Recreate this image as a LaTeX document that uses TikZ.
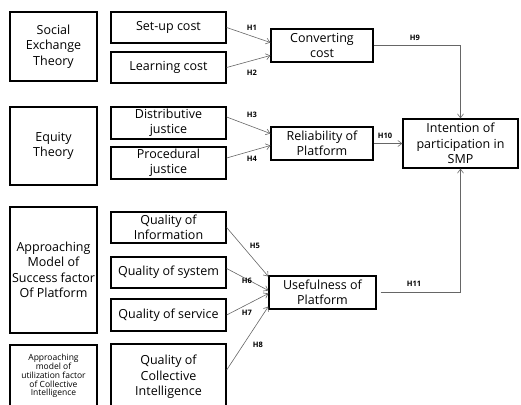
\documentclass[tikz,border=0pt]{standalone}
\usepackage{fontspec}
\setmainfont{Open Sans}
\usetikzlibrary{arrows.meta}
\tikzset{box/.style={rectangle, draw, line width=1.3pt, align=center, inner sep=0pt,
   font=\fontsize{12.5}{15.5}\selectfont}}
\tikzset{theory/.style={box, minimum width=87pt}}
\tikzset{factor/.style={box, minimum width=115pt, minimum height=31pt}}
\tikzset{construct/.style={box, minimum width=102pt, minimum height=33pt}}
\tikzset{hyp/.style={draw=black!60, line width=0.6pt,
   -{Straight Barb[length=4pt,width=6pt]}}}
\tikzset{hlabel/.style={font=\bfseries\fontsize{7.5}{8}\selectfont, inner sep=0pt}}

\begin{document}
\begin{tikzpicture}[x=1pt, y=-1pt]

    \useasboundingbox (0,0) rectangle (521,404);

    \node[theory, minimum height=69pt] (social) at (53.5,46.5) {Social\\Exchange\\Theory};
    \node[theory, minimum height=78pt] (equity) at (53.5,146) {Equity\\Theory};
    \node[theory, minimum height=126pt] (success) at (53.5,270) {Approaching\\Model of\\Success factor\\Of Platform};
    \node[theory, minimum height=62pt, font=\fontsize{8.5}{8.8}\selectfont] (utilize) at (53.5,376)
        {Approaching\\model of\\utilization factor\\of Collective\\Intelligence};

    \node[factor] (setup) at (168.5,27.5) {Set-up cost};
    \node[factor] (learn) at (168.5,67.5) {Learning cost};
    \node[factor, minimum height=32pt] (distr) at (168.5,123) {Distributive\\justice};
    \node[factor, minimum height=32pt] (proc) at (168.5,163) {Procedural\\justice};
    \node[factor] (qinfo) at (168.5,227.5) {Quality of\\Information};
    \node[factor] (qsys) at (168.5,272.5) {Quality of system};
    \node[factor, minimum height=32pt] (qserv) at (168.5,315) {Quality of service};
    \node[factor, minimum height=66pt] (qci) at (168.5,377) {Quality of\\Collective\\Intelligence};

    \node[construct] (conv) at (322,45.5) {Converting\\cost};
    \node[construct] (rel) at (322,143.5) {Reliability of\\Platform};
    \node[construct, minimum width=107pt] (useful) at (322.5,292.5) {Usefulness of\\Platform};
    \node[box, minimum width=115pt, minimum height=49pt] (intent) at (460.5,143.5)
        {Intention of\\participation in\\SMP};

    \draw[hyp] (setup.east) -- ([yshift=3pt]conv.west);
    \draw[hyp] (learn.east) -- ([yshift=-10pt]conv.west);
    \draw[hyp] ([yshift=6pt]distr.east) -- ([yshift=10pt]rel.west);
    \draw[hyp] ([yshift=5pt]proc.east) -- ([yshift=-2pt]rel.west);
    \draw[hyp] (qinfo.east) -- ([yshift=16pt]useful.west);
    \draw[hyp] ([yshift=4pt]qsys.east) -- ([yshift=2pt]useful.west);
    \draw[hyp] (qserv.east) -- ([yshift=-1pt]useful.west);
    \draw[hyp] ([yshift=7pt]qci.east) -- ([yshift=-14pt]useful.west);
    \draw[hyp] (conv.east) -| (intent.north);
    \draw[hyp] (rel.east) -- (intent.west);
    \draw[hyp] ([xshift=4pt]useful.east) -| (intent.south);

    \node[hlabel] (h1) at (252,28) {H1};
    \node[hlabel] (h2) at (252,73) {H2};
    \node[hlabel] (h3) at (252,115) {H3};
    \node[hlabel] (h4) at (252,159) {H4};
    \node[hlabel] (h5) at (255,246) {H5};
    \node[hlabel] (h6) at (247,281) {H6};
    \node[hlabel] (h7) at (247,313) {H7};
    \node[hlabel] (h8) at (258,345) {H8};
    \node[hlabel] (h9) at (415,38) {H9};
    \node[hlabel] (h10) at (385,136) {H10};
    \node[hlabel] (h11) at (414,284) {H11};

\end{tikzpicture}
\end{document}
